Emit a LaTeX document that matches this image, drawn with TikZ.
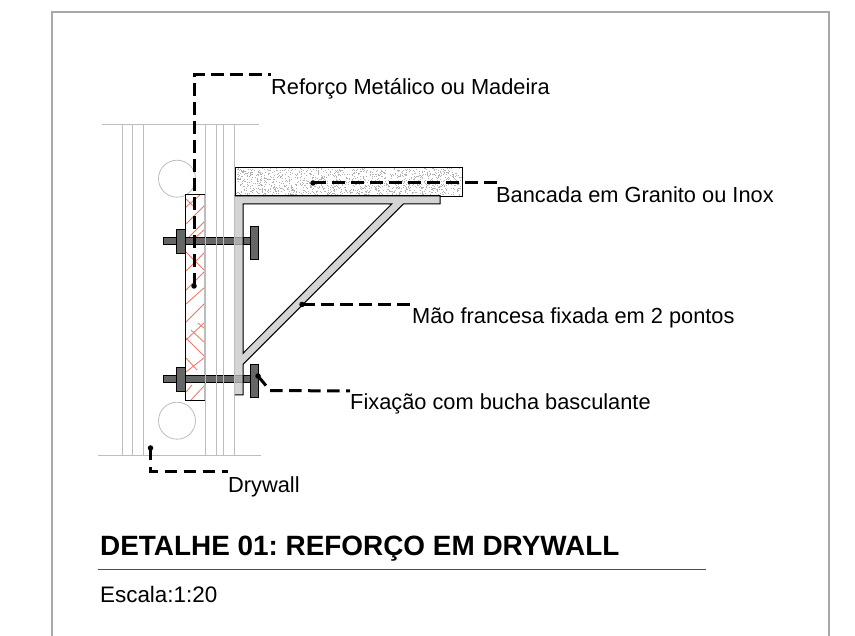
\documentclass[tikz,border=0pt]{standalone}
\usepackage{fontspec}
\setmainfont{Liberation Sans}
\frenchspacing
\definecolor{wall}{HTML}{BDBDBD}
\definecolor{frameg}{HTML}{A8A8A8}
\definecolor{hatchr}{HTML}{F07868}
\definecolor{steel}{HTML}{C6C6C6}
\definecolor{bolt}{HTML}{666666}
\tikzset{
  wallline/.style={draw=wall,line width=0.8pt},
  hatchline/.style={draw=hatchr,line width=0.85pt},
  leader/.style={draw=black,line width=3pt,dash pattern=on 12.5pt off 6.5pt},
  leaderdot/.style={circle,fill=black,inner sep=0pt,minimum size=5.5pt},
  label/.style={anchor=base west,inner sep=0pt,font=\fontsize{21.8}{25}\selectfont},
  boltpart/.style={draw=black,fill=bolt,line width=0.9pt},
}
\begin{document}
\begin{tikzpicture}[x=1pt,y=-1pt]
\useasboundingbox (0,0) rectangle (855,636);
\fill[white] (0,0) rectangle (855,636);
% frame
\draw[draw=frameg,line width=1.4pt] (52,636) -- (52,12) -- (828.8,12) -- (828.8,636);
% wall lines
\draw[wallline] (102,124.5) -- (259,124.5);
\draw[wallline] (98,455) -- (261,455);
\foreach \x in {132.3,143.3,216.3,223.7,234.7}{\draw[wallline] (\x,124.5) -- (\x,455);}
\draw[wallline,line width=1.4pt] (122.7,124.5) -- (122.7,455);
\draw[wallline] (205.3,124.5) -- (205.3,455);
\node[draw=wall,fill=white,circle,line width=0.8pt,minimum size=37pt,inner sep=0pt] (c1) at (177,178.7) {};
\node[draw=wall,fill=white,circle,line width=0.8pt,minimum size=37pt,inner sep=0pt] (c2) at (177,420.7) {};
% reinforcement
\fill[white] (185,195) rectangle (205,401);
\begin{scope}
\clip (185,195) rectangle (205,401);
\foreach \a/\b/\c/\d in {
 186/199/193/206, 186/207/200/195, 186/224/205/205, 186/240/205/221,
 196/237/205/229, 186/252/205/271, 186/271/205/252, 186/290/205/271,
 186/304/205/287, 186/322/205/303, 186/340/205/322,
 198/323/205/329, 191/330/205/343, 186/338/205/357,
 186/358/197/370, 186/372/205/357, 191/400/205/385, 186/392/192/385}{
  \draw[hatchline] (\a,\b) -- (\c,\d);
}
\end{scope}
\draw[draw=wall,line width=1.6pt] (205,195) -- (205,401);
\draw[black,line width=1pt] (205,195) -- (185,195) -- (185,401) -- (205,401);
% slab
\node[draw=black,line width=1pt,minimum width=226.7pt,minimum height=28.4pt,inner sep=0pt,anchor=north west] (slab) at (235,167.3) {};
\pgfmathsetseed{4711}
\foreach \i in {1,...,1300}{
  \pgfmathsetmacro{\px}{235.7+rnd*225}
  \pgfmathsetmacro{\py}{168+rnd*27}
  \fill[black!30] (\px,\py) rectangle ++(1,1);
}
% bolts
\foreach \y/\n in {241/t,379/b}{
  \draw[boltpart] (163.3,\y-3.8) rectangle (250,\y+3.8);
  \draw[boltpart] (176.7,\y-12) rectangle (185,\y+12);
}
\foreach \x in {205.3,216.3,223.7}{
  \draw[wall,line width=0.8pt] (\x,237.2) -- (\x,244.8);
  \draw[wall,line width=0.8pt] (\x,375.2) -- (\x,382.8);
}
% bracket
\fill[steel,fill opacity=0.75] (234.7,195.7) -- (440,195.7) -- (440,204) -- (403.3,204) -- (243,364.3) -- (243,395) -- (234.7,395) -- cycle;
\fill[white] (243.5,352) -- (243.5,204.5) -- (390.5,204.5) -- cycle;
\draw[black,line width=1pt] (234.7,395) -- (243,395) -- (243,364.3) -- (403.3,204) -- (440,204) -- (440,195.7) -- (234.7,195.7);
\draw[black,line width=1pt] (243,353.3) -- (243,204) -- (391.7,204) -- cycle;
\draw[wall,line width=1.2pt] (234.7,195.7) -- (234.7,395);
% bolt shank and head right of bracket
\foreach \y in {241,379}{
  \draw[boltpart] (243.5,\y-3.8) rectangle (250,\y+3.8);
  \draw[boltpart] (250,\y-15) rectangle (258.3,\y+18);
}
% labels
\node[label] (lrefo) at (271,95) {Reforço Metálico ou Madeira};
\node[label] (lbanc) at (496,203) {Bancada em Granito ou Inox};
\node[label] (lmao) at (412,324) {Mão francesa fixada em 2 pontos};
\node[label] (lfix) at (350,410) {Fixação com bucha basculante};
\node[label] (ldry) at (228,493) {Drywall};
\node[anchor=base west,inner sep=0pt,font=\bfseries\fontsize{27.9}{32}\selectfont] (title) at (100,555) {DETALHE 01: REFORÇO EM DRYWALL};
\node[anchor=base west,inner sep=0pt,font=\fontsize{22.4}{26}\selectfont] (esc) at (100,602) {Escala:1:20};
\coordinate (rl) at (98,569);
\coordinate (rr) at (706,569);
\draw[draw=black!70,line width=1pt] (rl) -- (rr);
% leaders
\node[leaderdot] (d1) at (194,286) {};
\node[leaderdot] (d2) at (313,183) {};
\node[leaderdot] (d3) at (302,304.5) {};
\node[leaderdot] (d4) at (258,376) {};
\node[leaderdot] (d5) at (150.5,448) {};
\coordinate (e1) at (271,75);
\coordinate (e2) at (497,183);
\coordinate (e3) at (412.5,304.5);
\coordinate (e4) at (350,391);
\coordinate (e5) at (228,472);
\draw[leader] (d1.center) -- (194,75) -- (e1);
\draw[leader] (d2.center) -- (e2);
\draw[leader] (d3.center) -- (e3);
\draw[leader] (d4.center) -- (270,390.5) -- (e4);
\draw[leader] (d5.center) -- (150.5,472) -- (e5);
\end{tikzpicture}
\end{document}
